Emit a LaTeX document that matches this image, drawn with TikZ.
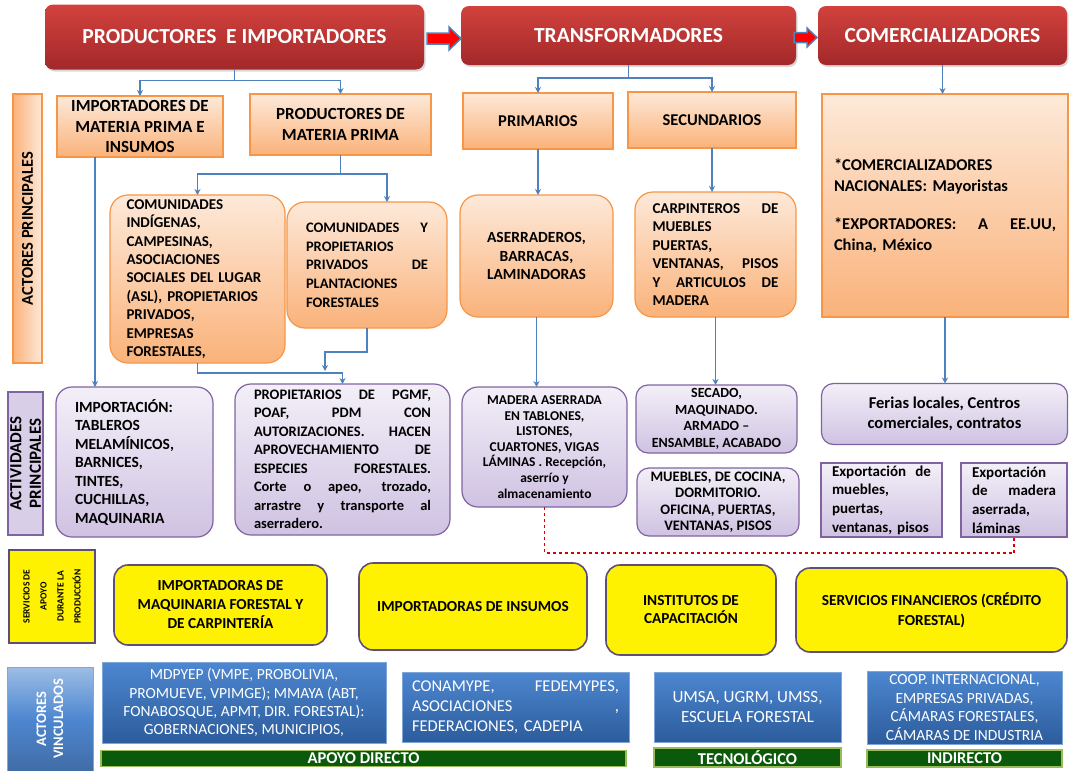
\documentclass[tikz,border=0pt]{standalone}
\usepackage{fontspec}
\usepackage{graphicx}
\setmainfont{Carlito}
\usetikzlibrary{shadows,calc,arrows.meta}
\definecolor{hdrtop}{HTML}{D2423D}
\definecolor{hdrbot}{HTML}{A3282A}
\definecolor{orbd}{HTML}{F79646}
\definecolor{ortop}{HTML}{FDE9D9}
\definecolor{orbot}{HTML}{FAB27A}
\definecolor{pubd}{HTML}{8064A2}
\definecolor{putop}{HTML}{F3EFF8}
\definecolor{pubot}{HTML}{CFC2E2}
\definecolor{conncol}{HTML}{4F81BD}
\definecolor{yelbd}{HTML}{5E4F78}
\definecolor{bltop}{HTML}{4D87D0}
\definecolor{blbot}{HTML}{2C5C9C}
\definecolor{blbd}{HTML}{7FA6D8}
\definecolor{grfill}{HTML}{0B5A0B}
\definecolor{grbd}{HTML}{9BBB59}
\newcommand\J[2]{{\spaceskip=0.3em plus 1fil\relax\makebox[#1pt][s]{#2}}}
\tikzset{
  every node/.style={inner sep=0pt, outer sep=0pt},
  hdr/.style={rounded corners=8pt, top color=hdrtop, bottom color=hdrbot, text=white,
    font=\fontsize{21.5}{25}\selectfont\bfseries,
    drop shadow={opacity=0.3, shadow xshift=1.5pt, shadow yshift=-2pt}},
  orect/.style={draw=orbd, line width=1.2pt, top color=ortop, bottom color=orbot,
    align=center, font=\fontsize{17}{20.5}\selectfont\bfseries},
  ornd/.style={draw=orbd, line width=1.2pt, rounded corners=18pt, top color=ortop, bottom color=orbot,
    font=\fontsize{15}{18.4}\selectfont\bfseries},
  pur/.style={draw=pubd, line width=1.2pt, rounded corners=16pt, top color=putop, bottom color=pubot,
    font=\fontsize{14.5}{18.5}\selectfont\bfseries},
  purr/.style={draw=pubd, line width=1.2pt, top color=putop, bottom color=pubot,
    font=\fontsize{15}{18.7}\selectfont\bfseries},
  yel/.style={draw=yelbd, line width=1.6pt, rounded corners=14pt, fill=yellow, align=center,
    font=\fontsize{15.3}{19}\selectfont\bfseries},
  blu/.style={draw=blbd, line width=0.8pt, top color=bltop, bottom color=blbot, text=white,
    font=\fontsize{15.5}{18.3}\selectfont},
  grn/.style={draw=grbd, line width=1.5pt, fill=grfill, text=white,
    font=\fontsize{16.5}{17}\selectfont\bfseries},
  cn/.style={draw=conncol, line width=1.3pt, -{Stealth[length=6pt,width=6pt]}},
  blockar/.style={draw=conncol, line width=1.5pt, fill=red},
  redd/.style={draw=red!85!black, line width=1.1pt, dashed},
}
\begin{document}
\begin{tikzpicture}[x=1pt,y=-1pt]
\useasboundingbox[fill=white] (0,0) rectangle (1082,771);

% headers
\node[hdr, minimum width=379, minimum height=65] (h1) at (234.5,37) {PRODUCTORES\ \ E IMPORTADORES};
\node[hdr, minimum width=335, minimum height=59] (h2) at (628.5,35.5) {TRANSFORMADORES};
\node[hdr, minimum width=249, minimum height=59] (h3) at (942.5,35.5) {COMERCIALIZADORES};
\path[blockar] (427,33) -- (449,33) -- (449,27) -- (461,38.5) -- (449,50) -- (449,44) -- (427,44) -- cycle;
\path[blockar] (794,32.5) -- (807,32.5) -- (807,28) -- (817,37.5) -- (807,47) -- (807,42.5) -- (794,42.5) -- cycle;

% side bars
\node[rotate=90, draw=orbd, line width=1.2pt, left color=orbot, right color=ortop,
  minimum width=269, minimum height=29, font=\fontsize{16.5}{18}\selectfont\bfseries] (s1) at (27.5,228.5) {ACTORES PRINCIPALES};
\node[rotate=90, draw=pubd, line width=1.2pt, fill=pubot!80!white, align=center,
  minimum width=143, minimum height=35, font=\fontsize{17}{19.5}\selectfont\bfseries] (s2) at (25.5,463.5) {ACTIVIDADES\\PRINCIPALES};
\node[rotate=90, draw=yelbd, line width=1.6pt, fill=yellow, align=center,
  minimum width=93, minimum height=86, font=\fontsize{9.5}{17}\selectfont\bfseries] (s3) at (52,596.5) {SERVICIOS DE\\APOYO\\DURANTE LA\\PRODUCCIÓN};
\node[rotate=90, draw=blbd, line width=0.8pt, top color=bltop!55!white, bottom color=blbot!90!white, middle color=bltop, align=center, text=white,
  minimum width=104, minimum height=86, font=\fontsize{14.5}{17}\selectfont\bfseries] (s4) at (50,719) {ACTORES\\VINCULADOS};

% actors row 1
\node[orect, minimum width=166, minimum height=61] (imp) at (140,126.5) {IMPORTADORES DE\\MATERIA PRIMA E\\INSUMOS};
\node[orect, minimum width=181, minimum height=61] (prod) at (340.5,124.5) {PRODUCTORES DE\\MATERIA PRIMA};
\node[orect, minimum width=150, minimum height=56, font=\fontsize{16.5}{18}\selectfont\bfseries] (prim) at (538,121) {PRIMARIOS};
\node[orect, minimum width=168, minimum height=56, font=\fontsize{16.5}{18}\selectfont\bfseries] (sec) at (712,120) {SECUNDARIOS};
\node[orect, minimum width=246, minimum height=223, text width=222, align=left,
  font=\fontsize{16.5}{20.5}\selectfont\bfseries] (com) at (945,205.5)
  {*COMERCIALIZADORES\\NACIONALES: Mayoristas\\[18pt]\J{222}{*EXPORTADORES: A EE.UU,}\\China, México};

% actors row 2
\node[ornd, minimum width=175, minimum height=168, text width=142, align=left] (ci) at (197.5,279)
  {COMUNIDADES\\INDÍGENAS,\\CAMPESINAS,\\ASOCIACIONES\\SOCIALES DEL LUGAR\\(ASL), PROPIETARIOS\\PRIVADOS,\\EMPRESAS\\FORESTALES,};
\node[ornd, minimum width=160, minimum height=126, text width=122, align=left, font=\fontsize{14.5}{18.7}\selectfont\bfseries] (cp) at (367,265)
  {\J{122}{COMUNIDADES Y}\\PROPIETARIOS\\\J{122}{PRIVADOS DE}\\PLANTACIONES\\FORESTALES};
\node[ornd, minimum width=153, minimum height=122, align=center, font=\fontsize{15.5}{18.5}\selectfont\bfseries] (ase) at (536.5,256)
  {ASERRADEROS,\\BARRACAS,\\LAMINADORAS};
\node[ornd, minimum width=161, minimum height=125, text width=126, align=left] (car) at (715.5,254.5)
  {\J{126}{CARPINTEROS DE}\\MUEBLES\\PUERTAS,\\\J{126}{VENTANAS, PISOS}\\\J{126}{Y ARTICULOS DE}\\MADERA};

% activities
\node[pur, minimum width=157, minimum height=150, text width=119, align=left, font=\fontsize{15.5}{18.5}\selectfont\bfseries] (impo) at (134.5,462)
  {IMPORTACIÓN:\\TABLEROS\\MELAMÍNICOS,\\BARNICES,\\TINTES,\\CUCHILLAS,\\MAQUINARIA};
\node[pur, minimum width=215, minimum height=151, text width=177, align=left] (pgmf) at (342.5,459.5)
  {\J{177}{PROPIETARIOS DE PGMF,}\\\J{177}{POAF, PDM CON}\\\J{177}{AUTORIZACIONES. HACEN}\\\J{177}{APROVECHAMIENTO DE}\\\J{177}{ESPECIES FORESTALES.}\\\J{177}{Corte o apeo, trozado,}\\\J{177}{arrastre y transporte al}\\aserradero.};
\node[pur, minimum width=165, minimum height=120, align=center, font=\fontsize{13.5}{15.6}\selectfont\bfseries] (mad) at (544.5,447)
  {MADERA ASERRADA\\EN TABLONES,\\LISTONES,\\CUARTONES, VIGAS\\LÁMINAS . Recepción,\\aserrío y\\almacenamiento};
\node[pur, minimum width=161, minimum height=68, rounded corners=12pt, align=center, font=\fontsize{14}{16.5}\selectfont\bfseries] (secd) at (716.5,419)
  {SECADO,\\MAQUINADO.\\ARMADO –\\ENSAMBLE, ACABADO};
\node[pur, minimum width=162, minimum height=68, rounded corners=12pt, align=center, font=\fontsize{14.5}{16.5}\selectfont\bfseries] (mue) at (718,502)
  {MUEBLES, DE COCINA,\\DORMITORIO.\\OFICINA, PUERTAS,\\VENTANAS, PISOS};
\node[pur, minimum width=246, minimum height=61, rounded corners=12pt, align=center, font=\fontsize{16.5}{20}\selectfont\bfseries] (fer) at (944.5,414)
  {Ferias locales, Centros\\comerciales, contratos};
\node[purr, minimum width=121, minimum height=74, text width=99, align=left] (exm) at (881.5,500)
  {\J{99}{Exportación de}\\muebles,\\puertas,\\ventanas, pisos};
\node[purr, minimum width=106, minimum height=74, text width=84, align=left] (exd) at (1014,500)
  {Exportación\\\J{84}{de madera}\\aserrada,\\láminas};

% support services
\node[yel, minimum width=213, minimum height=80] (y1) at (220.5,605) {IMPORTADORAS DE\\MAQUINARIA FORESTAL Y\\DE CARPINTERÍA};
\node[yel, minimum width=228, minimum height=87] (y2) at (473,606.5) {IMPORTADORAS DE INSUMOS};
\node[yel, minimum width=170, minimum height=90, font=\fontsize{15.3}{18}\selectfont\bfseries] (y3) at (691,610) {INSTITUTOS DE\\CAPACITACIÓN};
\node[yel, minimum width=271, minimum height=84, font=\fontsize{15.3}{20}\selectfont\bfseries] (y4) at (931.5,610) {SERVICIOS FINANCIEROS (CRÉDITO\\FORESTAL)};

% linked actors
\node[blu, minimum width=284, minimum height=81, align=center] (b1) at (244,702.5)
  {MDPYEP (VMPE, PROBOLIVIA,\\PROMUEVE, VPIMGE); MMAYA (ABT,\\FONABOSQUE, APMT, DIR. FORESTAL):\\GOBERNACIONES, MUNICIPIOS,};
\node[blu, minimum width=227, minimum height=70, text width=207, align=left, font=\fontsize{16.5}{20}\selectfont] (b2) at (515.5,707)
  {\J{207}{CONAMYPE, FEDEMYPES,}\\\J{207}{ASOCIACIONES ,}\\FEDERACIONES, CADEPIA};
\node[blu, minimum width=187, minimum height=70, align=center, font=\fontsize{17}{20}\selectfont] (b3) at (747.5,707)
  {UMSA, UGRM, UMSS,\\ESCUELA FORESTAL};
\node[blu, minimum width=195, minimum height=73, align=center, font=\fontsize{15.5}{18.5}\selectfont] (b4) at (964.5,707.5)
  {COOP. INTERNACIONAL,\\EMPRESAS PRIVADAS,\\CÁMARAS FORESTALES,\\CÁMARAS DE INDUSTRIA};
\node[grn, minimum width=525, minimum height=16] (g1) at (363.5,758.5) {APOYO DIRECTO};
\node[grn, minimum width=187, minimum height=19] (g2) at (747.5,757.5) {TECNOLÓGICO};
\node[grn, minimum width=195, minimum height=17] (g3) at (964.5,758.5) {INDIRECTO};

% connectors
\draw[cn] (h1.south) -- ++(0,11) -| (imp.north);
\draw[cn] (h1.south) -- ++(0,11) -| (prod.north);
\draw[cn] (h2.south) -- ++(0,13) -| (prim.north);
\draw[cn] (h2.south) -- ++(0,13) -| (sec.north);
\draw[cn] (h3.south) -- (h3.south |- com.north);
\draw[cn] (prod.south) -- ++(0,19) -| (ci.north);
\draw[cn] (prod.south) -- ++(0,19) -| ([xshift=20pt]cp.north);
\draw[cn] ([xshift=38pt]imp.south west) -- ([xshift=39pt]impo.north west);
\draw[cn] (ci.south) -- ++(0,10) -| (pgmf.north);
\coordinate (cpend) at (325,371);
\draw[cn] (cp.south) -- ++(0,24) -| (cpend);
\draw[cn] (prim.south) -- (prim.south |- ase.north);
\draw[cn] (sec.south) -- (sec.south |- car.north);
\draw[cn] (ase.south) -- (ase.south |- mad.north);
\draw[cn] (car.south) -- (car.south |- secd.north);
\draw[cn] (com.south) -- (com.south |- fer.north);
\draw[redd] (mad.south) -- ++(0,46) -| (exd.south);
\end{tikzpicture}
\end{document}
